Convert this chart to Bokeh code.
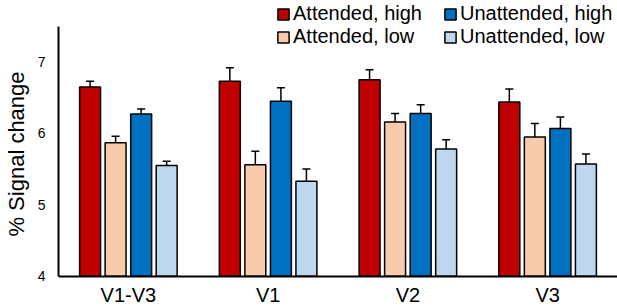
from bokeh.plotting import figure
from bokeh.models import (ColumnDataSource, FactorRange, Range1d, Whisker, TeeHead,
                          Legend, LegendItem, FixedTicker)
from bokeh.transform import dodge
from bokeh.embed import file_html
from bokeh.resources import INLINE

groups = ["V1-V3", "V1", "V2", "V3"]
series = ["Attended, high", "Attended, low", "Unattended, high", "Unattended, low"]
att_high = [6.65, 6.73, 6.75, 6.44]
att_high_err = [0.08, 0.19, 0.14, 0.18]
att_low = [5.87, 5.56, 6.16, 5.95]
att_low_err = [0.09, 0.19, 0.12, 0.19]
unatt_high = [6.27, 6.45, 6.28, 6.07]
unatt_high_err = [0.07, 0.19, 0.12, 0.16]
unatt_low = [5.55, 5.33, 5.78, 5.57]
unatt_low_err = [0.06, 0.17, 0.13, 0.14]
y_ticks = [4, 5, 6, 7]

colors = ["#C00000", "#F8CBAD", "#0070C0", "#BDD7EE"]
offsets = [-0.274, -0.0915, 0.0915, 0.274]
values = [att_high, att_low, unatt_high, unatt_low]
errors = [att_high_err, att_low_err, unatt_high_err, unatt_low_err]

FONT = "Liberation Sans"

p = figure(x_range=FactorRange(*groups, range_padding=0),
           y_range=Range1d(3.562, 7.861),
           width=617, height=307, output_backend="svg", toolbar_location=None,
           min_border_left=58, min_border_right=0, min_border_top=0, min_border_bottom=0)
p.outline_line_color = None
p.grid.grid_line_color = None
p.background_fill_color = "white"
p.border_fill_color = "white"

items = []
for name, vals, errs, col, off in zip(series, values, errors, colors, offsets):
    src = ColumnDataSource(dict(g=groups, v=vals,
                                up=[a + b for a, b in zip(vals, errs)],
                                lo=[a - b for a, b in zip(vals, errs)]))
    r = p.vbar(x=dodge("g", off, range=p.x_range), top="v", bottom=4, width=0.15,
               source=src, fill_color=col, line_color="black", line_width=1.5)
    w = Whisker(source=src, base=dodge("g", off, range=p.x_range), upper="up", lower="lo",
                line_color="black", line_width=1.5,
                upper_head=TeeHead(size=8, line_color="black", line_width=1.5),
                lower_head=TeeHead(size=8, line_color="black", line_width=1.5))
    p.add_layout(w)
    items.append(LegendItem(label=name, renderers=[r]))

# axes
p.yaxis.ticker = FixedTicker(ticks=y_ticks)
p.yaxis.bounds = (4, 7.5)
p.yaxis.axis_line_width = 2
p.yaxis.axis_line_color = "black"
p.yaxis.major_tick_line_color = None
p.yaxis.minor_tick_line_color = None
p.yaxis.major_tick_out = 0
p.yaxis.major_label_standoff = 13
p.yaxis.major_label_text_font = FONT
p.yaxis.major_label_text_font_size = "14px"
p.yaxis.major_label_text_color = "black"
p.yaxis.axis_label = "% Signal change"
p.yaxis.axis_label_text_font = FONT
p.yaxis.axis_label_text_font_size = "22px"
p.yaxis.axis_label_text_font_style = "normal"
p.yaxis.axis_label_text_color = "black"
p.yaxis.axis_label_standoff = 6

p.xaxis.fixed_location = 4
p.xaxis.axis_line_width = 2
p.xaxis.axis_line_color = "black"
p.xaxis.major_tick_line_color = None
p.xaxis.minor_tick_line_color = None
p.xaxis.major_tick_out = 0
p.xaxis.major_label_standoff = 8
p.xaxis.major_label_text_font = FONT
p.xaxis.major_label_text_font_size = "20px"
p.xaxis.major_label_text_color = "black"

legend_style = dict(glyph_width=14, glyph_height=14, label_standoff=3,
                    label_text_font=FONT, label_text_font_size="20px",
                    label_text_color="black", spacing=0, padding=0, margin=0,
                    border_line_color=None, background_fill_alpha=0)
leg_a = Legend(items=[items[0], items[1]], location=(218, 259), **legend_style)
leg_b = Legend(items=[items[2], items[3]], location=(385, 259), **legend_style)
p.add_layout(leg_a, "center")
p.add_layout(leg_b, "center")

open("out.html", "w").write(file_html(p, INLINE))
